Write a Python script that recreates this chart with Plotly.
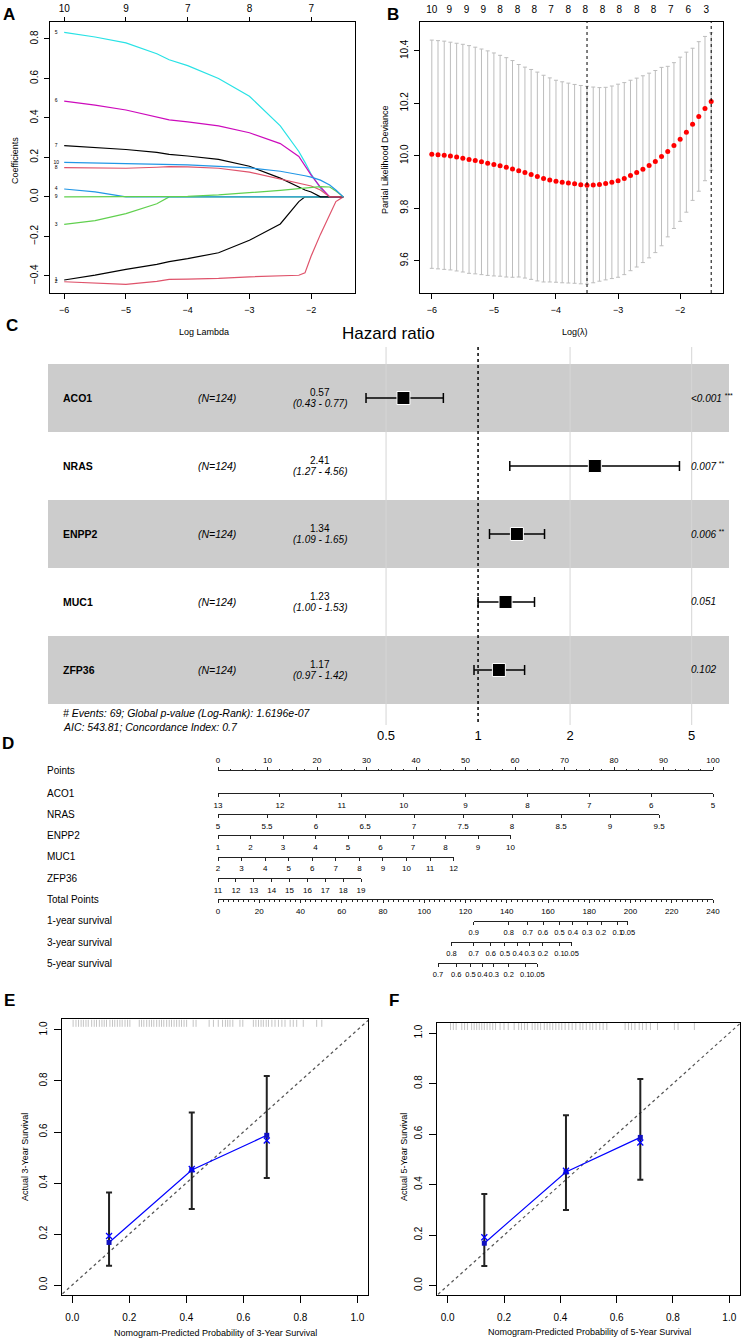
import plotly.graph_objects as go

W, H = 742, 1339
SANS = "Liberation Sans, Arial, sans-serif"
NARROW = "Liberation Sans Narrow, Liberation Sans, Arial, sans-serif"

# ---------------- A: lasso coefficient paths ----------------
log_lambda = [-6.0, -5.5, -5.0, -4.5, -4.3, -4.0, -3.5, -3.0, -2.5, -2.2, -2.1, -2.0, -1.85, -1.7, -1.6, -1.48]
coef_v1 = [-0.421, -0.396, -0.367, -0.342, -0.328, -0.313, -0.283, -0.22, -0.137, -0.024, 0, 0, 0, 0, 0, 0]
coef_v2 = [-0.43, -0.438, -0.443, -0.428, -0.418, -0.417, -0.413, -0.405, -0.398, -0.397, -0.385, -0.30, -0.19, -0.09, -0.024, 0]
coef_v3 = [-0.139, -0.12, -0.085, -0.035, 0, 0, 0, 0, 0, 0, 0, 0, 0, 0, 0, 0]
coef_v4 = [0.04, 0.025, 0, 0, 0, 0, 0, 0, 0, 0, 0, 0, 0, 0, 0, 0]
coef_v5 = [0.833, 0.81, 0.78, 0.725, 0.695, 0.665, 0.60, 0.51, 0.36, 0.23, 0.175, 0.115, 0.045, 0, 0, 0]
coef_v6 = [0.485, 0.465, 0.44, 0.405, 0.39, 0.38, 0.36, 0.325, 0.27, 0.205, 0.16, 0.11, 0.05, 0, 0, 0]
coef_v7 = [0.26, 0.25, 0.24, 0.225, 0.215, 0.207, 0.19, 0.155, 0.095, 0.05, 0.035, 0.025, 0, 0, 0, 0]
coef_v8 = [0.148, 0.146, 0.145, 0.15, 0.153, 0.152, 0.145, 0.125, 0.09, 0.07, 0.062, 0.055, 0.035, 0, 0, 0]
coef_v9 = [0, 0, 0, 0, 0, 0.003, 0.01, 0.02, 0.033, 0.042, 0.045, 0.048, 0.052, 0.05, 0.03, 0]
coef_v10 = [0.175, 0.172, 0.17, 0.166, 0.165, 0.162, 0.155, 0.147, 0.13, 0.115, 0.107, 0.1, 0.085, 0.06, 0.035, 0]
coef_labels = ["1", "2", "3", "4", "5", "6", "7", "8", "9", "10"]
a_df_at = [-6, -5, -4, -3, -2]
a_df = ["10", "9", "7", "8", "7"]

# ---------------- B: cross-validated deviance ----------------
cv_lambda = [-6.0, -5.9, -5.8, -5.7, -5.6, -5.5, -5.4, -5.3, -5.2, -5.1, -5.0, -4.9, -4.8, -4.7, -4.6, -4.5,
             -4.4, -4.3, -4.2, -4.1, -4.0, -3.9, -3.8, -3.7, -3.6, -3.5, -3.4, -3.3, -3.2, -3.1, -3.0, -2.9,
             -2.8, -2.7, -2.6, -2.5, -2.4, -2.3, -2.2, -2.1, -2.0, -1.9, -1.8, -1.7, -1.6, -1.5]
cv_dev = [10.006, 10.004, 10.002, 9.999, 9.995, 9.991, 9.986, 9.982, 9.977, 9.972, 9.967, 9.962, 9.956, 9.950,
          9.943, 9.936, 9.929, 9.921, 9.913, 9.908, 9.903, 9.899, 9.896, 9.893, 9.890, 9.888, 9.889, 9.891,
          9.894, 9.899, 9.905, 9.913, 9.925, 9.936, 9.949, 9.963, 9.978, 9.997, 10.016, 10.039, 10.063,
          10.090, 10.120, 10.150, 10.180, 10.207]
cv_se = [0.435, 0.435, 0.435, 0.434, 0.434, 0.434, 0.434, 0.432, 0.430, 0.428, 0.425, 0.421, 0.418, 0.413,
         0.405, 0.402, 0.400, 0.398, 0.394, 0.389, 0.385, 0.383, 0.381, 0.379, 0.378, 0.377, 0.373, 0.369,
         0.367, 0.367, 0.368, 0.366, 0.363, 0.360, 0.356, 0.352, 0.347, 0.340, 0.325, 0.316, 0.313, 0.305,
         0.290, 0.285, 0.275, 0.262]
cv_df_at = [-6.00, -5.72, -5.44, -5.17, -4.90, -4.62, -4.35, -4.08, -3.80, -3.53, -3.25, -2.98, -2.70,
            -2.43, -2.15, -1.87, -1.58]
cv_df = ["10", "9", "9", "9", "8", "8", "8", "7", "8", "8", "8", "8", "8", "8", "7", "6", "3"]
lambda_min = -3.5
lambda_1se = -1.5

# ---------------- C: multivariate Cox forest ----------------
genes = ["ACO1", "NRAS", "ENPP2", "MUC1", "ZFP36"]
n_pat = [124, 124, 124, 124, 124]
hr = [0.57, 2.41, 1.34, 1.23, 1.17]
hr_lo = [0.43, 1.27, 1.09, 1.00, 0.97]
hr_hi = [0.77, 4.56, 1.65, 1.53, 1.42]
p_val = ["&lt;0.001", "0.007", "0.006", "0.051", "0.102"]
p_star = ["***", "**", "**", "", ""]
hr_ticks = [0.5, 1, 2, 5]
n_events = 69
global_p = "1.6196e-07"
aic = 543.81
c_index = 0.7

# ---------------- D: nomogram ----------------
aco1_vals = [13, 12, 11, 10, 9, 8, 7, 6, 5]
aco1_pts = 100
nras_vals = [5, 5.5, 6, 6.5, 7, 7.5, 8, 8.5, 9, 9.5]
nras_pts = 89.1
enpp2_vals = [1, 2, 3, 4, 5, 6, 7, 8, 9, 10]
enpp2_pts = 59.1
muc1_vals = [2, 3, 4, 5, 6, 7, 8, 9, 10, 11, 12]
muc1_pts = 47.6
zfp36_vals = [11, 12, 13, 14, 15, 16, 17, 18, 19]
zfp36_pts = 28.9
total_max = 240
surv1_prob = ["0.9", "0.8", "0.7", "0.6", "0.5", "0.4", "0.3", "0.2", "0.1", "0.05"]
surv1_total = [124, 141, 150.2, 157.6, 165.6, 172.1, 179, 185.7, 193.8, 198.7]
surv3_prob = ["0.8", "0.7", "0.6", "0.5", "0.4", "0.3", "0.2", "0.1", "0.05"]
surv3_total = [113.2, 124, 132.2, 139.1, 145.3, 151.1, 157.5, 165.6, 171.4]
surv5_prob = ["0.7", "0.6", "0.5", "0.4", "0.3", "0.2", "0.1", "0.05"]
surv5_total = [106.7, 115.5, 122.4, 128.2, 133.7, 140.9, 149, 154.8]

# ---------------- E / F: calibration ----------------
cal_pred = [0.129, 0.419, 0.682]
cal_obs = [0.167, 0.451, 0.587]
cal_lo = [0.076, 0.298, 0.42]
cal_hi = [0.363, 0.676, 0.82]
cal_corr = [0.192, 0.455, 0.567]
cal5_pred = [0.130, 0.420, 0.684]
cal5_obs = [0.168, 0.450, 0.587]
cal5_lo = [0.078, 0.300, 0.419]
cal5_hi = [0.363, 0.675, 0.818]
cal5_corr = [0.192, 0.455, 0.567]
rug3 = [0.003, 0.013, 0.022, 0.031, 0.039, 0.048, 0.056, 0.068, 0.077, 0.085, 0.095, 0.104, 0.112, 0.12,
        0.132, 0.141, 0.149, 0.158, 0.167, 0.175, 0.185, 0.194, 0.202, 0.235, 0.243, 0.251, 0.261, 0.27,
        0.278, 0.286, 0.296, 0.305, 0.313, 0.321, 0.331, 0.34, 0.348, 0.357, 0.366, 0.375, 0.383, 0.392,
        0.401, 0.424, 0.434, 0.48, 0.495, 0.512, 0.527, 0.537, 0.545, 0.553, 0.563, 0.588, 0.598, 0.635,
        0.644, 0.653, 0.662, 0.67, 0.68, 0.688, 0.7, 0.711, 0.723, 0.735, 0.746, 0.764, 0.775, 0.787,
        0.81, 0.857, 0.875]
rug5 = [0.01, 0.02, 0.03, 0.05, 0.06, 0.07, 0.085, 0.094, 0.103, 0.112, 0.121, 0.13, 0.14, 0.15, 0.16,
        0.17, 0.186, 0.2, 0.215, 0.236, 0.252, 0.262, 0.273, 0.283, 0.3, 0.31, 0.32, 0.33, 0.343, 0.353,
        0.363, 0.373, 0.384, 0.395, 0.405, 0.417, 0.43, 0.442, 0.455, 0.47, 0.48, 0.492, 0.505, 0.515,
        0.527, 0.54, 0.552, 0.565, 0.63, 0.642, 0.653, 0.665, 0.68, 0.692, 0.705, 0.72, 0.745, 0.805,
        0.818, 0.876]
diag = [-0.05, 1.05]


def dx(a, b):
    return [a / W, b / W]


def dy(top, bottom):
    return [1 - bottom / H, 1 - top / H]


def box_axis(rng, dom, tickvals, fmt="", angle=0, standoff=2, ticklen=5, size=10):
    return dict(range=rng, domain=dom, tickvals=tickvals, tickformat=fmt, tickangle=angle,
                showline=True, mirror=True, linecolor="black", linewidth=1,
                ticks="outside", ticklen=ticklen, tickwidth=1, tickcolor="black",
                showgrid=False, zeroline=False, ticklabelstandoff=standoff,
                tickfont=dict(family=SANS, size=size, color="black"))


fig = go.Figure()
anns = []


def ann(text, x, y, size=10, family=SANS, xanchor="center", angle=0, xref="paper", yref="paper"):
    anns.append(dict(text=text, x=x / W if xref == "paper" else x,
                     y=1 - y / H if yref == "paper" else y,
                     xref=xref, yref=yref, showarrow=False, xanchor=xanchor, yanchor="middle",
                     textangle=angle, font=dict(family=family, size=size, color="black")))


def ghost(x, y, xa, ya):
    fig.add_trace(go.Scatter(x=x, y=y, xaxis=xa, yaxis=ya, mode="markers",
                             marker=dict(opacity=0, size=1), hoverinfo="skip", showlegend=False))


# ---- A
a_series = [coef_v1, coef_v2, coef_v3, coef_v4, coef_v5, coef_v6, coef_v7, coef_v8, coef_v9, coef_v10]
a_cols = ["black", "#DF536B", "#61D04F", "#2297E6", "#28E2E5", "#CD0BBC",
          "black", "#DF536B", "#61D04F", "#2297E6"]
for s, c in zip(a_series, a_cols):
    fig.add_trace(go.Scatter(x=log_lambda, y=s, mode="lines", line=dict(color=c, width=1.2),
                             xaxis="x", yaxis="y", hoverinfo="skip", showlegend=False))
fig.add_trace(go.Scatter(x=[-6.13] * len(a_series), y=[s[0] for s in a_series], text=coef_labels,
                         mode="text", textfont=dict(size=5, family=SANS, color="black"),
                         xaxis="x", yaxis="y", hoverinfo="skip", showlegend=False, cliponaxis=False))
ghost(a_df_at, [0] * 5, "x7", "y")

# ---- B
fig.add_trace(go.Scatter(x=cv_lambda, y=cv_dev, mode="markers",
                         marker=dict(color="red", size=5),
                         error_y=dict(type="data", array=cv_se, color="#bdbdbd", thickness=1, width=2),
                         xaxis="x2", yaxis="y2", hoverinfo="skip", showlegend=False))
ghost(cv_df_at, [10] * len(cv_df_at), "x8", "y2")

# ---- C
for v in hr_ticks:
    if v == 1:
        continue
    fig.add_trace(go.Scatter(x=[v, v], y=[0.25, 5.81], mode="lines", line=dict(color="#d6d6d6", width=1),
                             xaxis="x3", yaxis="y3", hoverinfo="skip", showlegend=False))
fig.add_trace(go.Scatter(x=[1, 1], y=[0.25, 5.81], mode="lines",
                         line=dict(color="black", width=1.5, dash="dot"),
                         xaxis="x3", yaxis="y3", hoverinfo="skip", showlegend=False))
rows = list(range(1, len(genes) + 1))
fig.add_trace(go.Scatter(x=hr, y=rows, mode="markers",
                         marker=dict(symbol="square", size=13, color="black", line=dict(color="white", width=1)),
                         error_x=dict(type="data", array=[h - m for h, m in zip(hr_hi, hr)],
                                      arrayminus=[m - l for m, l in zip(hr, hr_lo)],
                                      color="black", thickness=1.5, width=5),
                         xaxis="x3", yaxis="y3", hoverinfo="skip", showlegend=False))
shapes = []
for k, g in zip(rows, genes):
    if k % 2 == 1:
        shapes.append(dict(type="rect", xref="paper", yref="y3", x0=48 / W, x1=729 / W,
                           y0=k - 0.5, y1=k + 0.5, fillcolor="#cccccc", line=dict(width=0), layer="below"))
    ann("<b>" + g + "</b>", 61, k, size=10.5, family=NARROW, xanchor="left", yref="y3")
    ann("<i>(N=" + str(n_pat[k - 1]) + ")</i>", 217, k, size=10.5, family=NARROW, yref="y3")
    ann(f"{hr[k - 1]:.2f}", 320, k - 0.075, size=10, family=NARROW, yref="y3")
    ann(f"<i>({hr_lo[k - 1]:.2f} - {hr_hi[k - 1]:.2f})</i>", 320, k + 0.085, size=10, family=NARROW, yref="y3")
    ptxt = "<i>" + p_val[k - 1] + "</i>"
    if p_star[k - 1]:
        ptxt += " <sup>" + p_star[k - 1] + "</sup>"
    ann(ptxt, 689, k, size=10, family=NARROW, xanchor="left", yref="y3")
ann("Hazard ratio", 388, 333, size=17, family=NARROW)
ann(f"<i># Events: {n_events}; Global p-value (Log-Rank): {global_p}</i>", 61, 713, size=10.5,
    family=NARROW, xanchor="left")
ann(f"<i>AIC: {aic}; Concordance Index: {c_index}</i>", 61, 727, size=10.5, family=NARROW, xanchor="left")

# ---- B dashed lines
for lv in [lambda_min, lambda_1se]:
    shapes.append(dict(type="line", xref="x2", yref="y2 domain", x0=lv, x1=lv, y0=0, y1=1,
                       line=dict(color="black", width=1, dash="dot")))

# ---- D nomogram (one free axis per row)
X0, X1 = 218, 713
pp = (X1 - X0) / 100.0
tp = (X1 - X0) / total_max
nomo_rows = [
    ("Points", 770, [0, 100], [X0, X1], list(range(0, 101, 10)), None, "top"),
    ("ACO1", 793.3, [aco1_vals[0], aco1_vals[-1]], [X0, X0 + aco1_pts * pp], aco1_vals, None, "bottom"),
    ("NRAS", 814, [nras_vals[0], nras_vals[-1]], [X0, X0 + nras_pts * pp], nras_vals, None, "bottom"),
    ("ENPP2", 835.4, [enpp2_vals[0], enpp2_vals[-1]], [X0, X0 + enpp2_pts * pp], enpp2_vals, None, "bottom"),
    ("MUC1", 856.8, [muc1_vals[0], muc1_vals[-1]], [X0, X0 + muc1_pts * pp], muc1_vals, None, "bottom"),
    ("ZFP36", 878, [zfp36_vals[0], zfp36_vals[-1]], [X0, X0 + zfp36_pts * pp], zfp36_vals, None, "bottom"),
    ("Total Points", 899.4, [0, total_max], [X0, X1], list(range(0, total_max + 1, 20)), None, "bottom"),
    ("1-year survival", 920.8, [surv1_total[0], surv1_total[-1]],
     [X0 + surv1_total[0] * tp, X0 + surv1_total[-1] * tp], surv1_total, surv1_prob, "bottom"),
    ("3-year survival", 942, [surv3_total[0], surv3_total[-1]],
     [X0 + surv3_total[0] * tp, X0 + surv3_total[-1] * tp], surv3_total, surv3_prob, "bottom"),
    ("5-year survival", 963.2, [surv5_total[0], surv5_total[-1]],
     [X0 + surv5_total[0] * tp, X0 + surv5_total[-1] * tp], surv5_total, surv5_prob, "bottom"),
]
nomo_axes = {}
for i, (name, ypx, rng, dom, vals, txt, side) in enumerate(nomo_rows):
    n = 9 + i
    ax = dict(anchor="free", position=1 - ypx / H, domain=dx(dom[0], dom[1]), range=rng, side=side,
              tickvals=vals, ticktext=txt if txt else [f"{v:g}" for v in vals], tickangle=0,
              showline=True, linecolor="#222", linewidth=1, ticks="outside", ticklen=3, tickwidth=1,
              tickcolor="#222", showgrid=False, zeroline=False, ticklabelstandoff=1,
              tickfont=dict(family=NARROW, size=7.5 if txt else 8, color="black"))
    if name in ("Points", "Total Points"):
        ax["minor"] = dict(dtick=2.5, ticklen=1.5, tickcolor="#222", ticks="outside", showgrid=False)
    nomo_axes[f"xaxis{n}"] = ax
    ghost(vals, [0.5] * len(vals), f"x{n}", "y4")
    ann(name, 45, ypx, size=10, family=NARROW, xanchor="left")

# ---- E / F calibration
for (xa, ya, pr, ob, lo, hi, co, rug) in [("x5", "y5", cal_pred, cal_obs, cal_lo, cal_hi, cal_corr, rug3),
                                         ("x6", "y6", cal5_pred, cal5_obs, cal5_lo, cal5_hi, cal5_corr, rug5)]:
    fig.add_trace(go.Scatter(x=rug, y=[1.026] * len(rug), mode="markers",
                             marker=dict(symbol="line-ns", size=5, line=dict(color="#c4c4c4", width=1)),
                             xaxis=xa, yaxis=ya, hoverinfo="skip", showlegend=False))
    fig.add_trace(go.Scatter(x=diag, y=diag, mode="lines", line=dict(color="#555555", width=1.2, dash="dot"),
                             xaxis=xa, yaxis=ya, hoverinfo="skip", showlegend=False))
    fig.add_trace(go.Scatter(x=pr, y=ob, mode="markers", marker=dict(size=1, color="black"),
                             error_y=dict(type="data", array=[h - o for h, o in zip(hi, ob)],
                                          arrayminus=[o - l for o, l in zip(ob, lo)],
                                          color="#222222", thickness=2, width=3),
                             xaxis=xa, yaxis=ya, hoverinfo="skip", showlegend=False))
    fig.add_trace(go.Scatter(x=pr, y=ob, mode="lines+markers", line=dict(color="blue", width=1.2),
                             marker=dict(symbol="square", size=5, color="#1010c0"),
                             xaxis=xa, yaxis=ya, hoverinfo="skip", showlegend=False))
    fig.add_trace(go.Scatter(x=pr, y=co, mode="markers",
                             marker=dict(symbol="x-thin", size=6, line=dict(color="blue", width=1.3)),
                             xaxis=xa, yaxis=ya, hoverinfo="skip", showlegend=False))

# ---- panel letters and axis titles
for letter, x, y in [("A", 9, 14), ("B", 393, 14), ("C", 12, 325), ("D", 8, 743), ("E", 9, 1000), ("F", 394, 1000)]:
    ann("<b>" + letter + "</b>", x, y, size=17)
ann("Coefficients", 15, 160, size=9, angle=-90)
ann("Log Lambda", 204, 332, size=9, family=NARROW)
ann("Partial Likelihood Deviance", 385, 160, size=9, angle=-90)
ann("Log(λ)", 575, 332, size=9, family=NARROW)
ann("Actual 3-Year Survival", 25, 1157, size=9, angle=-90)
ann("Actual 5-Year Survival", 404, 1157, size=9, angle=-90)
ann("Nomogram-Predicted Probability of 3-Year Survival", 215, 1333, size=9)
ann("Nomogram-Predicted Probability of 5-Year Survival", 589, 1332, size=9)

cal_ticks = [0, 0.2, 0.4, 0.6, 0.8, 1.0]
layout = dict(
    template="none", width=W, height=H, margin=dict(l=0, r=0, t=0, b=0),
    paper_bgcolor="white", plot_bgcolor="rgba(0,0,0,0)", showlegend=False,
    font=dict(family=SANS, color="black"),
    xaxis=box_axis([-6.23, -1.29], dx(50, 355), [-6, -5, -4, -3, -2], standoff=3, size=9),
    yaxis=box_axis([-0.487, 0.886], dy(22, 293), [-0.4, -0.2, 0, 0.2, 0.4, 0.6, 0.8], ".1f", -90),
    xaxis7=dict(overlaying="x", side="top", range=[-6.23, -1.29], tickvals=a_df_at, ticktext=a_df,
                ticks="outside", ticklen=4, tickcolor="black", showline=False, showgrid=False, zeroline=False,
                ticklabelstandoff=1, tickfont=dict(family=SANS, size=10, color="black")),
    xaxis2=box_axis([-6.19, -1.31], dx(420, 723), [-6, -5, -4, -3, -2], standoff=3, size=9),
    yaxis2=box_axis([9.477, 10.51], dy(22, 293), [9.6, 9.8, 10.0, 10.2, 10.4], ".1f", -90),
    xaxis8=dict(overlaying="x2", side="top", range=[-6.19, -1.31], tickvals=cv_df_at, ticktext=cv_df,
                ticks="", showline=False, showgrid=False, zeroline=False, ticklabelstandoff=6,
                tickfont=dict(family=SANS, size=10, color="black")),
    xaxis3=dict(type="log", range=[-1.407, 0.821], domain=dx(48, 729), anchor="y3",
                tickvals=hr_ticks, ticktext=[f"{v:g}" for v in hr_ticks], ticks="", showline=False,
                showgrid=False, zeroline=False, ticklabelstandoff=1,
                tickfont=dict(family=NARROW, size=13, color="black")),
    yaxis3=dict(range=[5.809, 0], domain=dy(330, 725), anchor="x3", visible=False),
    yaxis4=dict(range=[0, 1], domain=dy(745, 985), anchor="x9", visible=False),
    xaxis5=box_axis([-0.036, 1.037], dx(62, 368), cal_ticks, ".1f", standoff=6, ticklen=7),
    yaxis5=box_axis([-0.039, 1.043], dy(1019, 1295), cal_ticks, ".1f", -90, standoff=3, ticklen=7),
    xaxis6=box_axis([-0.038, 1.038], dx(437, 740), cal_ticks, ".1f", standoff=6, ticklen=7),
    yaxis6=box_axis([-0.037, 1.04], dy(1023, 1295), cal_ticks, ".1f", -90, standoff=3, ticklen=7),
    shapes=shapes, annotations=anns,
)
layout["xaxis"]["anchor"] = "y"
layout["yaxis"]["anchor"] = "x"
layout["xaxis2"]["anchor"] = "y2"
layout["yaxis2"]["anchor"] = "x2"
layout["xaxis5"]["anchor"] = "y5"
layout["yaxis5"]["anchor"] = "x5"
layout["xaxis6"]["anchor"] = "y6"
layout["yaxis6"]["anchor"] = "x6"
layout.update(nomo_axes)
fig.update_layout(**layout)
# drop the browser's default body margin so the page is exactly the figure
fig.write_html("out.html", config={"displayModeBar": False},
               post_script="document.body.style.margin='0px';")
